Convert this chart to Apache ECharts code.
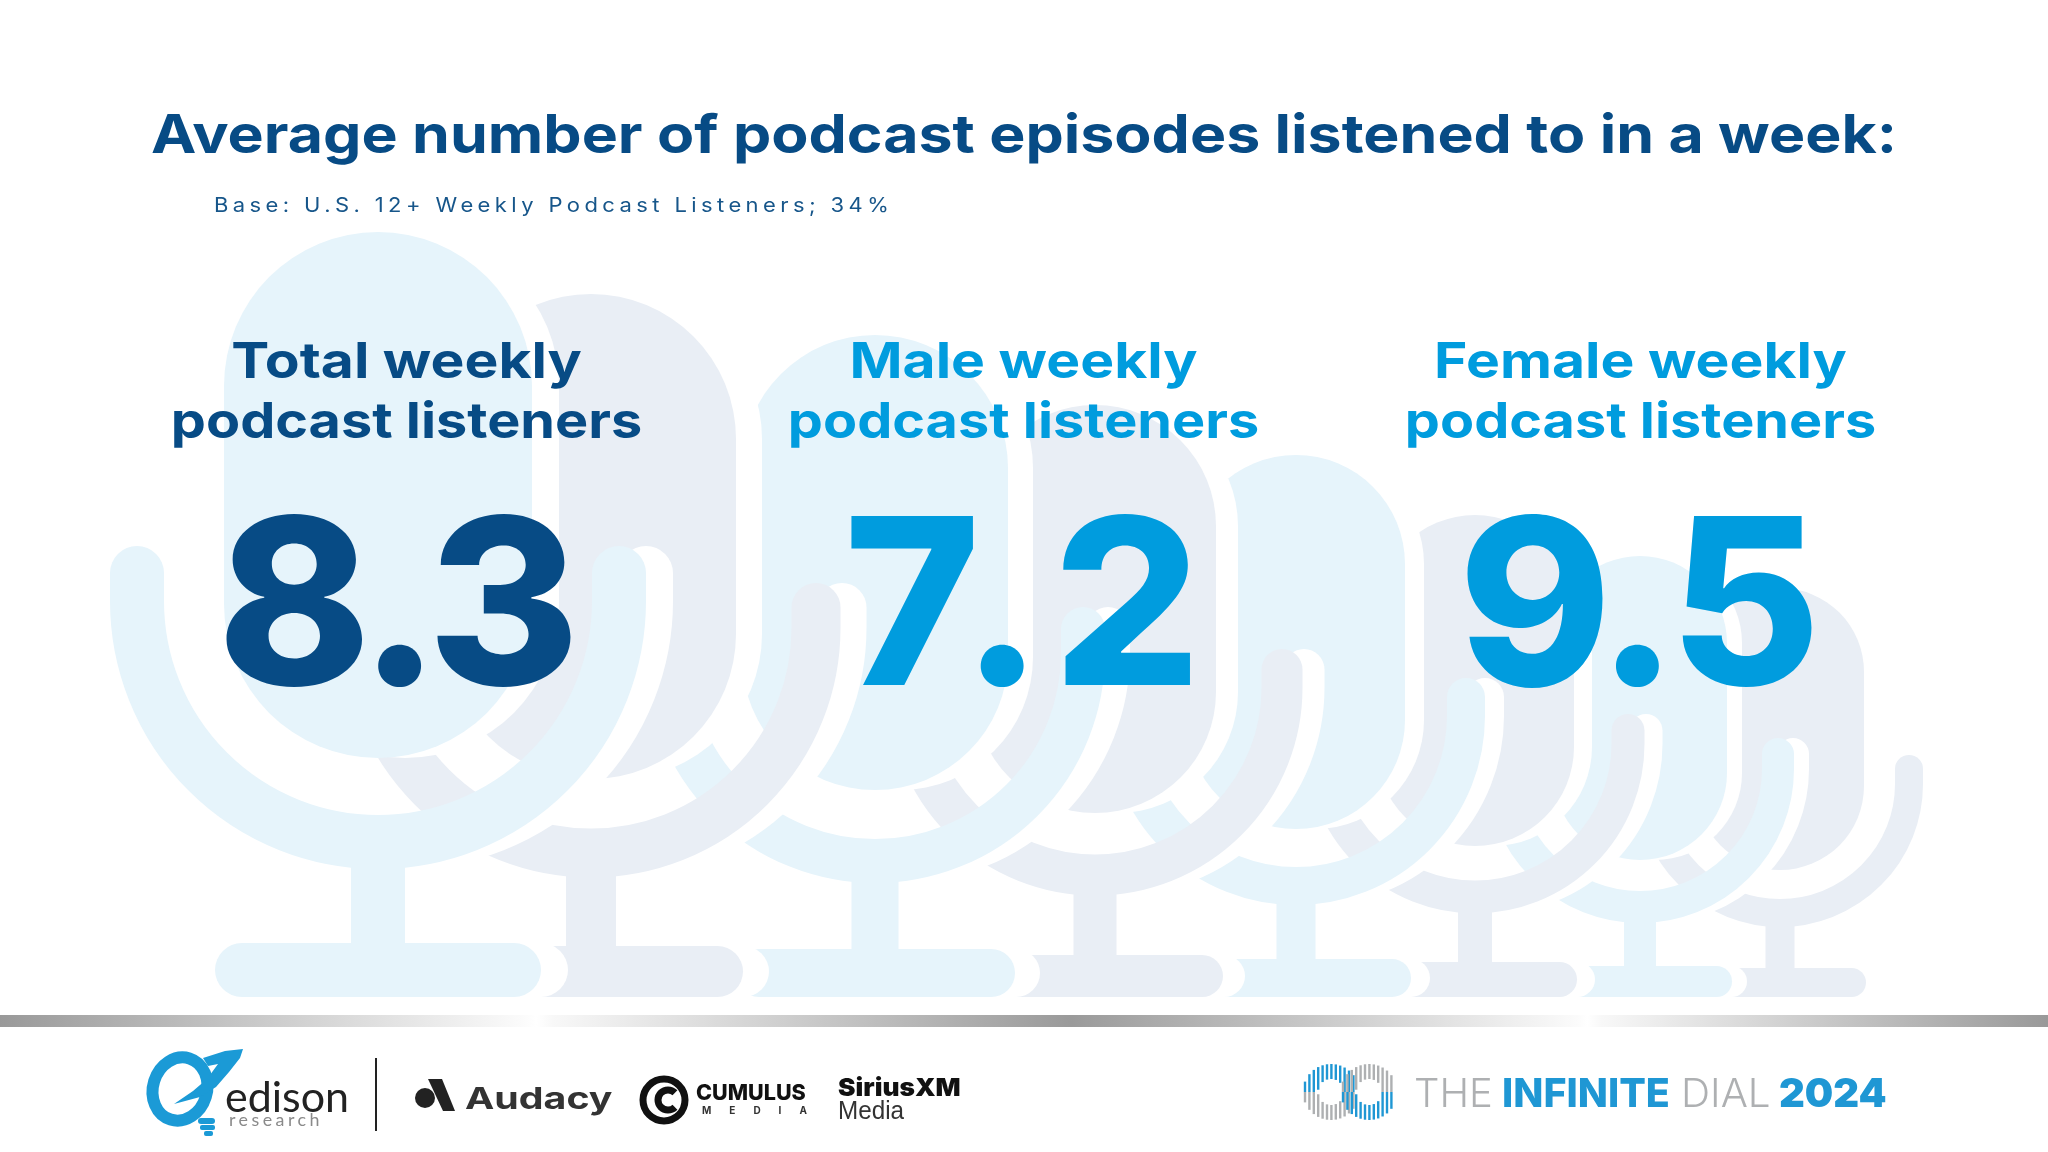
<!DOCTYPE html>
<html><head><meta charset="utf-8">
<style>html,body{margin:0;padding:0;background:#fff}#c{width:2048px;height:1152px}</style>
<script src="https://cdn.jsdelivr.net/npm/echarts@6/dist/echarts.min.js"></script>
</head><body><div id="c"></div>
<script>
const titleText = 'Average number of podcast episodes listened to in a week:';
const baseText = 'Base: U.S. 12+ Weekly Podcast Listeners; 34%';
const categories = ['Total weekly\npodcast listeners', 'Male weekly\npodcast listeners', 'Female weekly\npodcast listeners'];
const values = [8.3, 7.2, 9.5];
const DARK = '#074b85', BLUE = '#009cde', FONT = 'Inter';
const LIGHTMIC = '#e6f4fb', GRAYMIC = '#e9eef5';
const valueNudge = [-12, 4, -5];

// tracking for the few texts that are letter-spaced in the design
const tracking = { [baseText]: '4px', 'MEDIA': '18px', 'research': '3.3px', '8.3': '-8px', '7.2': '10px', '9.5': '-8px' };
const nativeFill = CanvasRenderingContext2D.prototype.fillText;
CanvasRenderingContext2D.prototype.fillText = function (t, x, y, w) {
  const sp = tracking[t];
  if (sp === undefined) return w === undefined ? nativeFill.call(this, t, x, y) : nativeFill.call(this, t, x, y, w);
  this.save();
  this.letterSpacing = sp;
  nativeFill.call(this, t, x, y);
  this.restore();
};

// decorative microphones: [cx, capTop, capBot, capHalf, midR, stroke, tipTop, arcCy, stemW, baseTop, baseHalf, shift]
const mics = [
  [378, 232, 758, 154, 241, 54, 546, 601, 54, 943, 163, 27],
  [591, 294, 779, 145, 225, 49, 583, 628, 50, 946, 152, 26],
  [875, 335, 790, 133, 208, 44, 607, 653, 47, 949, 140, 25],
  [1095, 405, 813, 121, 187, 41, 649, 688, 43, 955, 128, 22],
  [1296, 455, 829, 109, 170, 38, 678, 716, 39, 959, 115, 19],
  [1475, 515, 846, 99, 153, 33, 714, 744, 34, 962, 102, 18],
  [1640, 556, 860, 87, 138, 32, 738, 769, 32, 966, 92, 15],
  [1780, 588, 870, 84, 129, 28, 755, 784, 29, 968, 86, 13]
];
const BASE_BOTTOM = 997;

function micShapes(m, color, dx) {
  const [cx0, capTop, capBot, capHalf, r, sw, tip, cy, stemW, baseTop, baseHalf] = m;
  const cx = cx0 + dx, s = { fill: color }, h = BASE_BOTTOM - baseTop;
  const arm = x => ({ type: 'rect', shape: { x: x - sw / 2, y: tip, width: sw, height: cy - tip, r: [sw / 2, sw / 2, 0, 0] }, style: s, silent: true });
  return [
    { type: 'rect', shape: { x: cx - capHalf, y: capTop, width: capHalf * 2, height: capBot - capTop, r: capHalf }, style: s, silent: true },
    arm(cx - r), arm(cx + r),
    { type: 'arc', shape: { cx, cy, r, startAngle: 0, endAngle: Math.PI, clockwise: true }, style: { stroke: color, lineWidth: sw, fill: null }, silent: true },
    { type: 'rect', shape: { x: cx - stemW / 2, y: cy + r, width: stemW, height: baseTop - cy - r + 1 }, style: s, silent: true },
    { type: 'rect', shape: { x: cx - baseHalf, y: baseTop, width: baseHalf * 2, height: h, r: h / 2 }, style: s, silent: true }
  ];
}
const decor = [];
for (let i = mics.length - 1; i >= 0; i--) {
  decor.push(...micShapes(mics[i], '#ffffff', mics[i][11]));
  decor.push(...micShapes(mics[i], i % 2 ? GRAYMIC : LIGHTMIC, 0));
}

function txt(text, x, y, size, weight, color, family, scaleX, align) {
  return { type: 'text', x, y, scaleX: scaleX || 1, silent: true,
    style: { text, fontSize: size, fontWeight: weight, fontFamily: family || FONT, fill: color, align: align || 'left', verticalAlign: 'middle' } };
}

// footer bar
const bar = { type: 'rect', shape: { x: 0, y: 1015, width: 2048, height: 12 }, silent: true,
  style: { fill: new echarts.graphic.LinearGradient(0, 0, 1, 0, [
    { offset: 0, color: '#999999' }, { offset: 0.255, color: '#fbfbfb' }, { offset: 0.262, color: '#ffffff' }, { offset: 0.27, color: '#f8f8f8' },
    { offset: 0.523, color: '#9a9a9a' },
    { offset: 0.77, color: '#fbfbfb' }, { offset: 0.775, color: '#ffffff' }, { offset: 0.782, color: '#f8f8f8' }, { offset: 1, color: '#999999' } ]) } };

// logos
const EBLUE = '#1b9ad6';
const logos = [
  { type: 'line', shape: { x1: 376, y1: 1058, x2: 376, y2: 1131 }, style: { stroke: '#222', lineWidth: 2 }, silent: true },
  { type: 'ellipse', rotation: -0.3, x: 180, y: 1089, shape: { cx: 0, cy: 0, rx: 27, ry: 32 }, style: { stroke: EBLUE, lineWidth: 12, fill: null }, silent: true },
  { type: 'polygon', shape: { points: [[203, 1058], [225, 1051], [243, 1049], [240, 1058], [229, 1072], [216, 1087], [200, 1097], [174, 1104], [193, 1091], [207, 1079], [218, 1064], [208, 1066]] }, style: { fill: EBLUE }, silent: true },
  { type: 'rect', shape: { x: 198, y: 1118, width: 17, height: 6, r: 3 }, style: { fill: EBLUE }, silent: true },
  { type: 'rect', shape: { x: 200, y: 1125, width: 15, height: 5, r: 2 }, style: { fill: EBLUE }, silent: true },
  { type: 'rect', shape: { x: 204, y: 1131, width: 9, height: 5, r: 2 }, style: { fill: EBLUE }, silent: true },
  txt('edison', 225, 1098, 43, 400, '#222222', 'Lato', 1.0),
  txt('research', 229, 1121, 17, 400, '#8a8a8a', 'Lato', 1.05),
  { type: 'polygon', shape: { points: [[428, 1079], [442, 1079], [455, 1111], [443, 1111]] }, style: { fill: '#222' }, silent: true },
  { type: 'circle', shape: { cx: 425, cy: 1098, r: 10 }, style: { fill: '#222' }, silent: true },
  txt('Audacy', 465, 1100, 30, 700, '#333', 'Inter', 1.31),
  { type: 'circle', shape: { cx: 664, cy: 1100, r: 21 }, style: { stroke: '#111', lineWidth: 7, fill: null }, silent: true },
  { type: 'arc', shape: { cx: 668, cy: 1100, r: 10, startAngle: 0.8, endAngle: -0.8, clockwise: true }, style: { stroke: '#111', lineWidth: 7, fill: null }, silent: true },
  txt('CUMULUS', 696, 1093, 22, 800, '#111', 'Inter', 0.98),
  txt('MEDIA', 702, 1111, 10, 700, '#333', 'Inter', 1),
  txt('SiriusXM', 838, 1088, 25, 900, '#111', 'Inter', 1.05),
  txt('Media', 838, 1112, 25, 300, '#333', 'Liberation Sans', 0.97),
  txt('THE', 1414, 1095, 40, 300, '#aeb0b2', 'Inter', 1.0),
  txt('INFINITE', 1502, 1095, 40, 800, '#1f97d4', 'Inter', 0.985),
  txt('DIAL', 1681, 1095, 40, 300, '#aeb0b2', 'Inter', 1.01),
  txt('2024', 1779, 1095, 40, 900, '#1f97d4', 'Inter', 1.0)
];
// infinity mark: vertical stripes on two rings
function ring(cx, topColor, bottomColor) {
  const out = [], cy = 1092, R = 28, r0 = 13;
  for (let dx = -26; dx <= 26; dx += 4.4) {
    const outer = Math.sqrt(Math.max(R * R - dx * dx, 16));
    const inner = Math.abs(dx) < r0 ? Math.sqrt(r0 * r0 - dx * dx) : 0;
    out.push({ type: 'line', silent: true, shape: { x1: cx + dx, y1: cy - outer, x2: cx + dx, y2: cy - inner }, style: { stroke: topColor, lineWidth: 2.4 } });
    out.push({ type: 'line', silent: true, shape: { x1: cx + dx, y1: cy + inner, x2: cx + dx, y2: cy + outer }, style: { stroke: bottomColor, lineWidth: 2.4 } });
  }
  return out;
}
const infinity = [...ring(1331, '#1f97d4', '#aeb0b2'), ...ring(1369, '#aeb0b2', '#1f97d4')];

const chart = echarts.init(document.getElementById('c'));
chart.setOption({
  animation: false,
  backgroundColor: '#ffffff',
  grid: { left: 98, width: 1851, top: 340, height: 300 },
  xAxis: { type: 'category', data: categories, show: false },
  yAxis: { type: 'value', min: 0, max: 10, show: false },
  graphic: { elements: [
    ...decor, bar, ...logos, ...infinity,
    txt(titleText, 1024, 137, 54, 700, DARK, FONT, 1.126, 'center'),
    txt(baseText, 214, 206, 20, 400, '#17568a', FONT, 1.1)
  ] },
  series: [{
    type: 'custom',
    z: 10,
    silent: true,
    data: values.map((v, i) => [i, v]),
    renderItem(params, api) {
      const i = api.value(0), v = api.value(1);
      const x = api.coord([i, 0])[0];
      const color = i === 0 ? DARK : BLUE;
      const top = params.coordSys.y;
      const [l1, l2] = categories[i].split('\n');
      const mk = (text, y, size, weight, sx) => ({ type: 'text', x, y, scaleX: sx,
        style: { text, fontSize: size, fontWeight: weight, fontFamily: FONT, fill: color, align: 'center', verticalAlign: 'middle' } });
      return { type: 'group', children: [
        mk(l1, top + 23, 50, 700, 1.14),
        mk(l2, top + 83, 50, 700, 1.115),
        { ...mk(v.toFixed(1), top + 275, 232, 800, 1.0), x: x + valueNudge[i] }
      ] };
    }
  }]
});
</script></body></html>
